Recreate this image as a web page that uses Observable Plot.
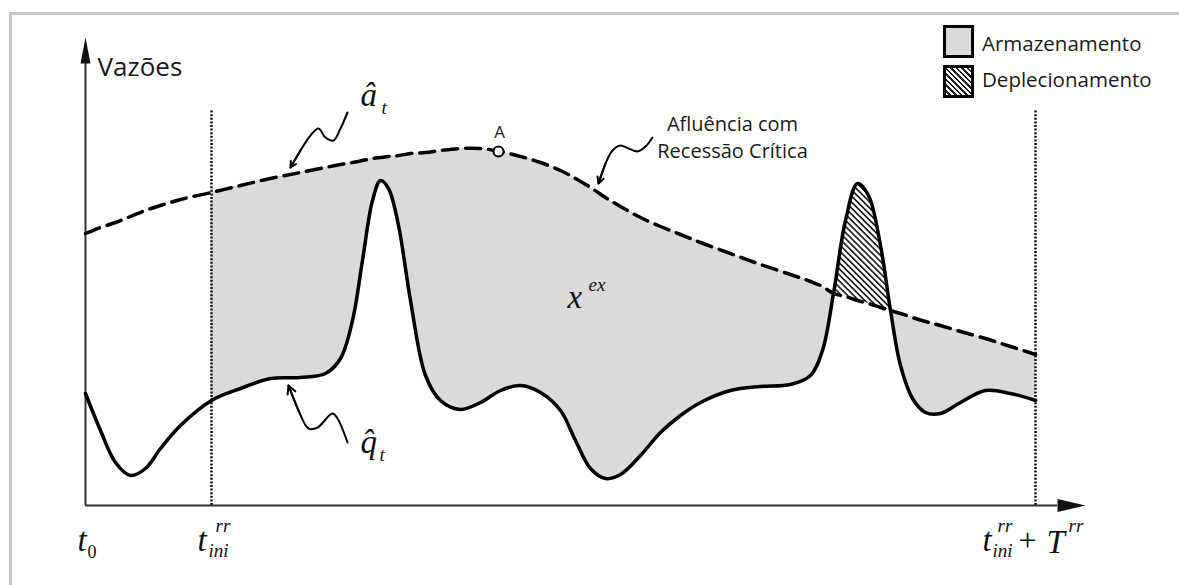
<!DOCTYPE html>
<html><head><meta charset="utf-8">
<script src="https://cdn.jsdelivr.net/npm/d3@7"></script>
<script src="https://cdn.jsdelivr.net/npm/@observablehq/plot@0.6"></script>
<style>
html,body{margin:0;padding:0;background:#fff;}
#wrap{position:relative;width:1179px;height:585px;overflow:hidden;background:#fff;}
#chart{position:absolute;left:0;top:0;}
#frame{position:absolute;left:9px;top:12px;width:1300px;height:700px;border-left:3px solid #c8c8c8;border-top:3px solid #c8c8c8;pointer-events:none;z-index:3;}
.sw{position:absolute;left:943px;width:31px;height:33px;box-sizing:border-box;border:3px solid #000;z-index:2;}
.sw.store{top:25px;background:#dadada;}
.sw.hatch{top:65px;background:repeating-linear-gradient(45deg,#fff 0 2.1px,#222 2.1px 3.9px);}
.lg{position:absolute;left:982px;font-family:"Open Sans";font-size:20.5px;color:#1a1a1a;white-space:nowrap;z-index:2;}
</style></head>
<body>
<div id="wrap">
  <div id="chart"></div>
  <div id="frame"></div>
  <div class="sw store"></div><div class="lg" style="top:29px">Armazenamento</div>
  <div class="sw hatch"></div><div class="lg" style="top:65px">Deplecionamento</div>
</div>
<script>
// time (t0 = 0) and flows
const time = [0,15,30,45,60,75,95,126,155,185,215,240,255,267,277,287,295,303,313,325,340,355,375,395,415,435,455,475,490,505,520,535,555,575,595,615,645,675,705,725,737,748,760,772,783,795,805,815,827,840,855,875,900,925,950];
const afluencia = [272,278,283,289,295,300,306,313,320,327,333,338,341,343,345,347,348,349,350,352,353,355,357,357,354,349,343,335,327,318,308,299,288,279,271,263,252,241,231,224,219,212,209,205,202,198,195,192,188,184,180,174,167,159,151];
const vazao = [112,75,43,30,37,57,80,105,117,127,128,132,147,185,245,305,325,317,280,205,130,105,96,103,115,120,113,95,65,37,27,31,50,73,90,103,115,119,121,130,155,212,285,322,310,260,195,140,107,93,92,103,115,112,105];

// key instants
const T0 = 0, TINI = 126, TEND = 950;
const pointA = [{t: 413, v: 354, label: "A"}];

// annotation geometry (data units)
const Y_MIN = -80, Y_MAX = 505;
const AX_Y_TOP = 442, AX_X_END = 972, DOT_TOP = 395;
const squiggleA = [{t:262,v:393},{t:255,v:377},{t:248,v:365},{t:240,v:368},{t:233,v:377},{t:225,v:370},{t:215,v:355},{t:205,v:338}];
const squiggleQ = [{t:262,v:63},{t:252,v:87},{t:247,v:92},{t:232,v:78},{t:223,v:77},{t:213,v:95},{t:203,v:120}];
const squiggleR = [{t:567,v:368},{t:560,v:359},{t:552,v:354},{t:543,v:357},{t:535,v:360},{t:527,v:355},{t:520,v:342},{t:513,v:322}];

const sansLabels = [
  {s:"Vazões", t:12, v:430, size:26, anchor:"start"},
  {s:"Afluência com", t:647, v:375, size:20, anchor:"middle"},
  {s:"Recessão Crítica", t:647, v:348, size:20, anchor:"middle"},
  {s:"A", t:414, v:368, size:17, anchor:"middle"}
];
const mathMain = [
  {s:"â", t:275, v:400}, {s:"q\u0302", t:275, v:53}, {s:"x", t:482, v:198},
  {s:"t", t:-8, v:-45}, {s:"t", t:112, v:-45}, {s:"t", t:897, v:-45}, {s:"T", t:961, v:-47}
];
const mathIdx = [
  {s:"t", t:296, v:392}, {s:"t", t:294, v:45}, {s:"ex", t:503, v:215},
  {s:"ini", t:123, v:-51}, {s:"rr", t:130, v:-26},
  {s:"ini", t:907, v:-51}, {s:"rr", t:912, v:-26}, {s:"rr", t:983, v:-26}
];
const mathUpright = [{s:"0", t:2, v:-52, size:18}, {s:"+", t:933, v:-45, size:32}];

const rows = time.map((t, i) => ({t, a: afluencia[i], q: vazao[i]}));
const curve = "catmull-rom";
const arrowUp = {draw(c){ c.moveTo(0,-26); c.lineTo(5,0); c.lineTo(-5,0); c.closePath(); }};
const arrowRight = {draw(c){ c.moveTo(28,0); c.lineTo(0,-6.5); c.lineTo(0,6.5); c.closePath(); }};
const heads = [squiggleA, squiggleQ, squiggleR].map(s => ({x1: s[s.length-2].t, y1: s[s.length-2].v, x2: s[s.length-1].t, y2: s[s.length-1].v}));
const serif = "'Liberation Serif', 'Times New Roman', serif";

const svg = Plot.plot({
  width: 1179, height: 585,
  marginTop: 0, marginRight: 0, marginBottom: 0, marginLeft: 0,
  x: {type: "linear", domain: [-85, 1094], range: [0, 1179], axis: null},
  y: {type: "linear", domain: [Y_MIN, Y_MAX], range: [585, 0], axis: null},
  marks: [
    // clip sources (moved to defs)
    Plot.area(rows, {x1: "t", y1: () => Y_MIN, y2: "a", curve, fill: "#010101"}),
    Plot.area(rows, {x1: "t", y1: "a", y2: () => Y_MAX, curve, fill: "#020202"}),
    // storage & depletion
    Plot.area(rows, {x1: "t", y1: "q", y2: "a", curve, fill: "#dadada"}),
    Plot.area(rows, {x1: "t", y1: "q", y2: "a", curve, fill: "#030303"}),
    Plot.rect([0], {x1: () => T0, x2: () => TINI, y1: () => Y_MIN, y2: () => Y_MAX, fill: "white"}),
    // dotted verticals
    Plot.ruleX([TINI, TEND], {x: d => d, y1: () => 0, y2: () => DOT_TOP, stroke: "#111", strokeWidth: 2.5, strokeDasharray: "2,1.6"}),
    // axes
    Plot.ruleX([T0], {x: d => d, y1: () => 0, y2: () => AX_Y_TOP, stroke: "#333", strokeWidth: 2}),
    Plot.ruleY([0], {y: d => d, x1: () => T0, x2: () => AX_X_END, stroke: "#333", strokeWidth: 2}),
    Plot.dot([{t: T0, v: AX_Y_TOP}], {x: "t", y: "v", symbol: arrowUp, fill: "#111", stroke: "none"}),
    Plot.dot([{t: AX_X_END, v: 0}], {x: "t", y: "v", symbol: arrowRight, fill: "#111", stroke: "none"}),
    // curves
    Plot.line(rows, {x: "t", y: "a", curve, stroke: "#000", strokeWidth: 3.5, strokeDasharray: "15,8"}),
    Plot.line(rows, {x: "t", y: "q", curve, stroke: "#000", strokeWidth: 3.5}),
    Plot.dot(pointA, {x: "t", y: "v", r: 5, fill: "white", stroke: "#000", strokeWidth: 2}),
    // squiggly pointers
    ...[squiggleA, squiggleQ, squiggleR].map(s => Plot.line(s, {x: "t", y: "v", curve: "catmull-rom", stroke: "#000", strokeWidth: 2})),
    Plot.arrow(heads, {x1: "x1", y1: "y1", x2: "x2", y2: "y2", stroke: "#000", strokeWidth: 2, headLength: 14, headAngle: 55}),
    // texts
    Plot.text(sansLabels.filter(d => d.anchor === "start"), {x: "t", y: "v", text: "s", textAnchor: "start", lineAnchor: "bottom", fontFamily: "Open Sans", fontSize: 26, fill: "#1a1a1a"}),
    Plot.text(sansLabels.filter(d => d.size === 20), {x: "t", y: "v", text: "s", textAnchor: "middle", lineAnchor: "bottom", fontFamily: "Open Sans", fontSize: 20, fill: "#1a1a1a"}),
    Plot.text(sansLabels.filter(d => d.size === 17), {x: "t", y: "v", text: "s", textAnchor: "middle", lineAnchor: "bottom", fontFamily: "Open Sans", fontSize: 17, fill: "#1a1a1a"}),
    Plot.text(mathMain, {x: "t", y: "v", text: "s", textAnchor: "start", lineAnchor: "bottom", fontFamily: serif, fontStyle: "italic", fontSize: 33, fill: "#111"}),
    Plot.text(mathIdx, {x: "t", y: "v", text: "s", textAnchor: "start", lineAnchor: "bottom", fontFamily: serif, fontStyle: "italic", fontSize: 19, fill: "#111"}),
    Plot.text(mathUpright.filter(d => d.size === 18), {x: "t", y: "v", text: "s", textAnchor: "start", lineAnchor: "bottom", fontFamily: serif, fontSize: 18, fill: "#111"}),
    Plot.text(mathUpright.filter(d => d.size === 32), {x: "t", y: "v", text: "s", textAnchor: "start", lineAnchor: "bottom", fontFamily: serif, fontSize: 32, fill: "#111"})
  ]
});

// patterns and clip paths
const NS = "http://www.w3.org/2000/svg";
const defs = document.createElementNS(NS, "defs");
const pat = document.createElementNS(NS, "pattern");
pat.setAttribute("id", "hatch");
pat.setAttribute("patternUnits", "userSpaceOnUse");
pat.setAttribute("width", "4.3"); pat.setAttribute("height", "4.3");
pat.setAttribute("patternTransform", "rotate(45)");
const pr = document.createElementNS(NS, "rect");
pr.setAttribute("width", "4.3"); pr.setAttribute("height", "1.7"); pr.setAttribute("fill", "#222");
pat.appendChild(pr); defs.appendChild(pat);
svg.insertBefore(defs, svg.firstChild);
function toClip(fill, id) {
  const g = svg.querySelector(`g[fill="${fill}"]`);
  const cp = document.createElementNS(NS, "clipPath");
  cp.setAttribute("id", id);
  g.querySelectorAll("path").forEach(p => cp.appendChild(p));
  defs.appendChild(cp);
  g.remove();
}
toClip("#010101", "belowA");
toClip("#020202", "aboveA");
svg.querySelector('g[fill="#dadada"]').setAttribute("clip-path", "url(#belowA)");
const hg = svg.querySelector('g[fill="#030303"]');
hg.setAttribute("fill", "url(#hatch)");
hg.setAttribute("clip-path", "url(#aboveA)");

document.getElementById("chart").appendChild(svg);
</script>
</body></html>
